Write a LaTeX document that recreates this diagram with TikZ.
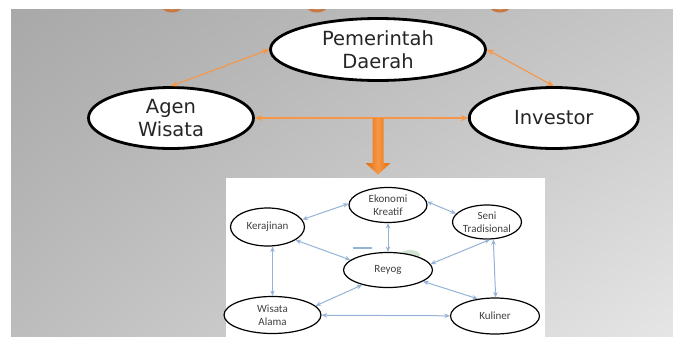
\documentclass[tikz,border=0pt]{standalone}
\usepackage{fontspec}
\setmainfont{DejaVu Sans}
\newfontfamily\diagfont{Carlito}
\usetikzlibrary{positioning,arrows.meta,shapes.geometric,shadings}
\definecolor{slideorange}{HTML}{F79646}
\definecolor{droporange}{HTML}{E46C0A}
\definecolor{linkblue}{HTML}{95B3D7}
\definecolor{ringbrown}{HTML}{C87A45}

\begin{document}
\begin{tikzpicture}[x=1pt,y=-1pt,
        bigell/.style={ellipse,draw=black,line width=2.8pt,fill=white,inner sep=0pt,align=center,font=\fontsize{19.5}{23}\selectfont,text=black!85},
        smallell/.style={ellipse,draw=black,line width=1.2pt,fill=white,inner sep=0pt,align=center,font=\diagfont\fontsize{11}{13}\selectfont,text=black!75},
        oarrow/.style={{Stealth[length=7pt,width=6pt]}-{Stealth[length=7pt,width=6pt]},slideorange,line width=1.1pt},
        barrow/.style={{Stealth[length=5.5pt,width=4.5pt]}-{Stealth[length=5.5pt,width=4.5pt]},linkblue,line width=1pt},
      ]
      \useasboundingbox (0,0) rectangle (673,338);
      \shade[upper left=black!34,upper right=black!22,lower left=black!26,lower right=black!10] (11,9) rectangle (673,336);
      \begin{scope}
        \clip (11,9) rectangle (673,336);
        \foreach \cx in {172,317,500}
          \draw[ringbrown,line width=3pt] (\cx,-3) circle[radius=14];
      \end{scope}

      % stakeholders
      \node[bigell,minimum width=215,minimum height=62] (pem) at (378,49.5) {Pemerintah\\Daerah};
      \node[bigell,minimum width=165,minimum height=61] (agen) at (171,118) {Agen\\Wisata};
      \node[bigell,minimum width=169,minimum height=61,right=213pt of agen] (inv) {Investor};

      \draw[oarrow] (pem.west) -- (agen.north);
      \draw[oarrow] (pem.east) -- (inv.north);
      \draw[oarrow] (agen.east) -- (inv.west);

      % picture of the reyog network
      \node[fill=white,minimum width=319,minimum height=159,inner sep=0pt] (pic) at (385.5,257.5) {};
      \coordinate (drop) at (378,118);
      \shade[left color=droporange,right color=droporange,middle color=slideorange]
        (drop) ++(-5.5,0) -- ++(11,0) -- ++(0,45) -- ++(7,0) -- ++(-12.5,11.5) -- ++(-12.5,-11.5) -- ++(7,0) -- cycle;

      \fill[green!40!black!18] (410,255) ellipse[x radius=10,y radius=5];
      \draw[linkblue,line width=1.2pt] (353,248) -- (372,248);

      \node[smallell,minimum width=78,minimum height=35] (ek) at (388,205) {Ekonomi\\Kreatif};
      \node[smallell,minimum width=69,minimum height=34] (seni) at (487,222) {Seni\\Tradisional};
      \node[smallell,minimum width=74,minimum height=38] (ker) at (267.5,227) {Kerajinan};
      \node[smallell,minimum width=89,minimum height=35] (rey) at (388,270) {Reyog};
      \node[smallell,minimum width=97,minimum height=37] (wis) at (272.5,315) {Wisata\\Alama};
      \node[smallell,minimum width=89,minimum height=36] (kul) at (495,316) {Kuliner};

      \draw[barrow] (ek.178) -- (ker.12);
      \draw[barrow] (ek.5) -- (seni.165);
      \draw[barrow] (ek) -- (rey);
      \draw[barrow] (ker.-25) -- (rey.165);
      \draw[barrow] (seni.-80) -- (rey.8);
      \draw[barrow] (seni.-70) -- (kul.88);
      \draw[barrow] (ker.south -| wis.north) -- (wis.north);
      \draw[barrow] (rey.-150) -- (wis.12);
      \draw[barrow] (rey.-18) -- (kul.135);
      \draw[barrow] (wis) -- (kul);
    \end{tikzpicture}
\end{document}
